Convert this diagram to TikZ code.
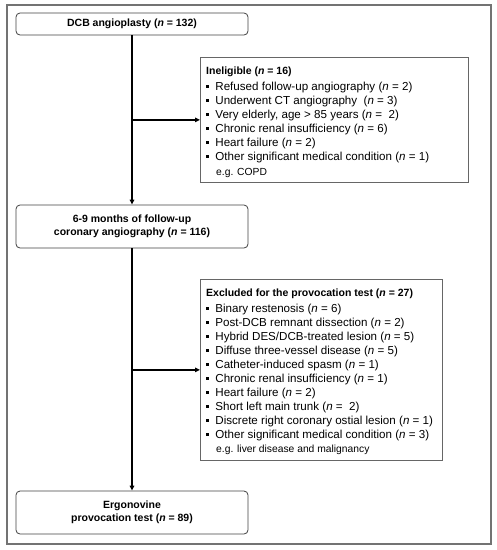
\documentclass[tikz,border=0pt]{standalone}
\usepackage{fontspec}
\setmainfont{Liberation Sans}
\usetikzlibrary{arrows.meta}
\newcommand{\sqb}{\rule[2.5pt]{2.7pt}{2.7pt}\hspace{6.5pt}}
\newcommand{\nn}{\textit{n}}
\newcommand{\ttl}[1]{{\fontsize{10.5}{14}\selectfont\textbf{#1}}\\[1.5pt]}
\newcommand{\egl}[1]{\hspace*{10pt}{\fontsize{10.3}{14}\selectfont #1}}
\begin{document}
\begin{tikzpicture}[x=1pt,y=-1pt,
  mainbox/.style={draw=black!75,line width=0.8pt,rounded corners=4pt,minimum width=232pt,
    align=center,font=\fontsize{10.5}{12.5}\selectfont\bfseries,inner sep=0pt},
  listframe/.style={draw=black!60,line width=0.8pt,anchor=north west,inner sep=0pt},
  listtext/.style={align=left,anchor=north west,font=\fontsize{11.6}{14}\selectfont,inner sep=0pt},
  arr/.style={line width=1.6pt,-{Triangle[length=5pt,width=4.5pt]}}]
\useasboundingbox (0,0) rectangle (497,550);
\draw[draw=black!55,line width=1.3pt] (7,5) rectangle (491,544);
\node[mainbox,minimum height=22pt] (box1) at (132,24) {DCB angioplasty (\nn{} = 132)};
\node[mainbox,minimum height=43pt] (box2) at (132,226.5) {6-9 months of follow-up\\coronary angiography (\nn{} = 116)};
\node[mainbox,minimum height=43pt] (box3) at (132,512.5) {Ergonovine\\provocation test (\nn{} = 89)};
\node[listframe,minimum width=268pt,minimum height=125pt] (inel) at (200,57) {};
\node[listtext] (ineltxt) at (206,67) {%
\ttl{Ineligible (\nn{} = 16)}
\sqb Refused follow-up angiography (\nn{} = 2)\\
\sqb Underwent CT angiography\ \ (\nn{} = 3)\\
\sqb Very elderly, age > 85 years (\nn{} =\ \ 2)\\
\sqb Chronic renal insufficiency (\nn{} = 6)\\
\sqb Heart failure (\nn{} = 2)\\
\sqb Other significant medical condition (\nn{} = 1)\\[1pt]
\egl{e.g. COPD}};
\node[listframe,minimum width=242pt,minimum height=181pt] (excl) at (200,279) {};
\node[listtext] (excltxt) at (206,289) {%
\ttl{Excluded for the provocation test (\nn{} = 27)}
\sqb Binary restenosis (\nn{} = 6)\\
\sqb Post-DCB remnant dissection (\nn{} = 2)\\
\sqb Hybrid DES/DCB-treated lesion (\nn{} = 5)\\
\sqb Diffuse three-vessel disease (\nn{} = 5)\\
\sqb Catheter-induced spasm (\nn{} = 1)\\
\sqb Chronic renal insufficiency (\nn{} = 1)\\
\sqb Heart failure (\nn{} = 2)\\
\sqb Short left main trunk (\nn{} =\ \ 2)\\
\sqb Discrete right coronary ostial lesion (\nn{} = 1)\\
\sqb Other significant medical condition (\nn{} = 3)\\
\egl{e.g. liver disease and malignancy}};
\coordinate (j1) at (box1.south |- inel.west);
\coordinate (j2) at (box2.south |- excl.west);
\draw[arr] (box1.south) -- (box2.north);
\draw[arr] (j1) -- (inel.west);
\draw[arr] (box2.south) -- (box3.north);
\draw[arr] (j2) -- (excl.west);
\end{tikzpicture}
\end{document}
